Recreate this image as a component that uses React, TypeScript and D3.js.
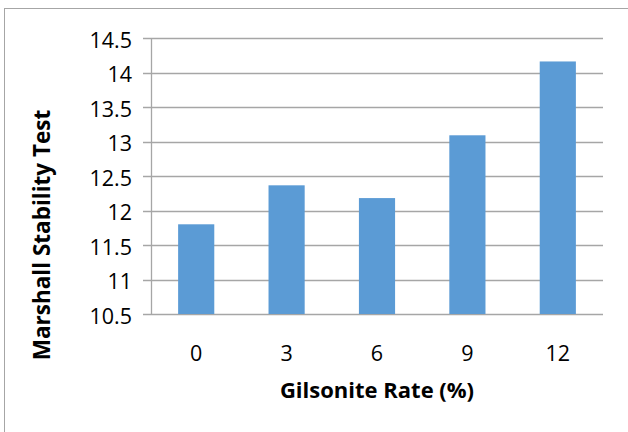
import React from "react";
import * as d3 from "d3";

const categories = ["0", "3", "6", "9", "12"];
const values = [11.8, 12.365, 12.18, 13.09, 14.16];
const yTicks = [10.5, 11, 11.5, 12, 12.5, 13, 13.5, 14, 14.5];
const xTitle = "Gilsonite Rate (%)";
const yTitle = "Marshall Stability Test";

const W = 628;
const H = 432;
const plot = { left: 151, right: 603, top: 38, bottom: 314 };
const FONT = "'Open Sans', Lato, sans-serif";

export default function App() {
  const x = d3
    .scaleBand<string>()
    .domain(categories)
    .range([plot.left, plot.right])
    .paddingInner(0.6)
    .paddingOuter(0.3);
  const y = d3.scaleLinear().domain([10.5, 14.5]).range([plot.bottom, plot.top]);

  return (
    <svg
      width={W}
      height={H}
      style={{ position: "absolute", left: 0, top: 0, background: "#fff" }}
      fontFamily={FONT}
    >
      <rect x={4.5} y={8.5} width={W + 10} height={H + 10} fill="#fff" stroke="#a6a6a6" strokeWidth={1} />
      {yTicks.map((t) => (
        <g key={t}>
          <line
            x1={plot.left - 8}
            x2={plot.right}
            y1={Math.round(y(t)) + 0.5}
            y2={Math.round(y(t)) + 0.5}
            stroke="#a6a6a6"
            strokeWidth={1.3}
          />
          <text
            x={plot.left - 19}
            y={y(t) + 1}
            textAnchor="end"
            dominantBaseline="central"
            fontSize={21.5}
            fill="#000"
          >
            {t}
          </text>
        </g>
      ))}
      <line x1={plot.left + 0.5} x2={plot.left + 0.5} y1={plot.top} y2={plot.bottom} stroke="#a6a6a6" strokeWidth={1.3} />
      {categories.map((c, i) => (
        <g key={c}>
          <rect
            x={x(c)}
            y={y(values[i])}
            width={x.bandwidth()}
            height={y(10.5) - y(values[i])}
            fill="#5b9bd5"
          />
          <text
            x={(x(c) as number) + x.bandwidth() / 2}
            y={352}
            textAnchor="middle"
            dominantBaseline="central"
            fontSize={21.5}
            fill="#000"
          >
            {c}
          </text>
        </g>
      ))}
      <text x={377} y={389} textAnchor="middle" dominantBaseline="central" fontSize={22} fontWeight="bold">
        {xTitle}
      </text>
      <text
        transform={`translate(41,235) rotate(-90)`}
        textAnchor="middle"
        dominantBaseline="central"
        fontSize={22.5}
        fontWeight="bold"
      >
        {yTitle}
      </text>
    </svg>
  );
}
